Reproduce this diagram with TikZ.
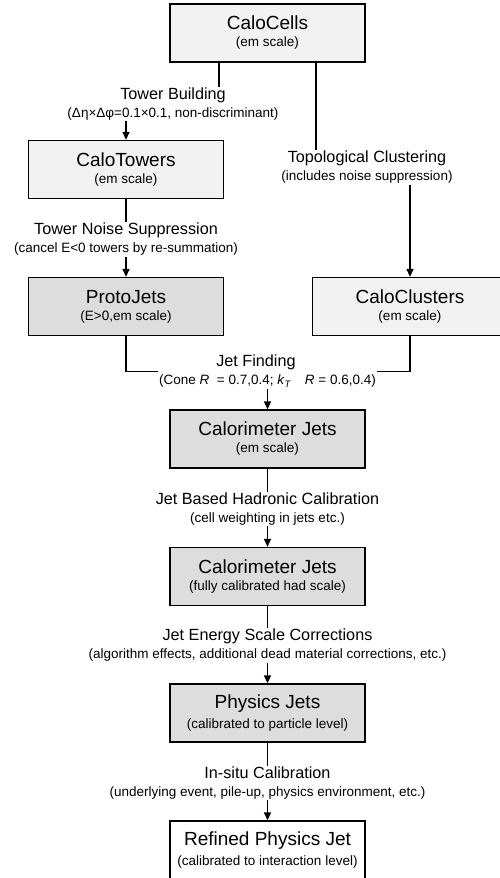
\documentclass[tikz,border=0pt]{standalone}
\usepackage{fontspec}
\setmainfont{Liberation Sans}
\usetikzlibrary{arrows.meta,calc}

\definecolor{lightbox}{gray}{0.95}
\definecolor{darkbox}{gray}{0.865}
\newcommand{\ttltxt}{\fontsize{19}{21}\selectfont}
\newcommand{\subtxt}{\fontsize{13.5}{16}\selectfont}

\begin{document}
\begin{tikzpicture}[
    x=1pt, y=-1pt,
    >={Triangle[length=8pt,width=7pt]},
    box/.style={draw, line width=1.3pt, align=center, inner sep=0pt,
                minimum width=195pt, minimum height=58pt},
    lbl/.style={align=center, inner sep=1pt, font=\fontsize{16.2}{18}\selectfont},
    flow/.style={line width=1.3pt},
  ]
    \clip (0,0) rectangle (500,878);
    \useasboundingbox (0,0) rectangle (500,878);
    % boxes
    \node[box, fill=lightbox] (cells)    at (267.5,33)  {\ttltxt CaloCells\\[5pt]\subtxt (em scale)};
    \node[box, fill=lightbox] (towers)   at (126,169.5) {\ttltxt CaloTowers\\[5pt]\subtxt (em scale)};
    \node[box, fill=darkbox]  (proto)    at (126,306.5) {\ttltxt ProtoJets\\[5pt]\subtxt (E>0,em scale)};
    \node[box, fill=lightbox] (clusters) at (410,306.5) {\ttltxt CaloClusters\\[5pt]\subtxt (em scale)};
    \node[box, fill=darkbox]  (jetsem)   at (267.5,439) {\ttltxt Calorimeter Jets\\[5pt]\subtxt (em scale)};
    \node[box, fill=darkbox]  (jetshad)  at (267.5,576.5) {\ttltxt Calorimeter Jets\\[5pt]\subtxt (fully calibrated had scale)};
    \node[box, fill=darkbox]  (physjets) at (267.5,713) {\ttltxt Physics Jets\\[5pt]\subtxt (calibrated to particle level)};
    \node[box, fill=white]    (refined)  at (267.5,850) {\ttltxt Refined Physics Jet\\[5pt]\subtxt (calibrated to interaction level)};
    % step labels
    \node[lbl] (tb) at (173,104)   {Tower Building\\\subtxt (Δη×Δφ=0.1×0.1, non-discriminant)};
    \node[lbl] (tc) at (367,167.5) {Topological Clustering\\\subtxt (includes noise suppression)};
    \node[lbl] (tn) at (126,239.5) {Tower Noise Suppression\\\subtxt (cancel E<0 towers by re-summation)};
    \node[lbl] (jf) at (267.5,371.5) {Jet Finding\hspace*{23pt}\\\subtxt (Cone \textit{R}~ = 0.7,0.4; \textit{k}\textsubscript{\textit{T}}\quad\textit{R} = 0.6,0.4)};
    \node[lbl] (jb) at (267.5,509)   {Jet Based Hadronic Calibration\\\subtxt (cell weighting in jets etc.)};
    \node[lbl] (je) at (267.5,645.5) {Jet Energy Scale Corrections\\\subtxt (algorithm effects, additional dead material corrections, etc.)};
    \node[lbl] (is) at (267.5,783)   {In-situ Calibration\\\subtxt (underlying event, pile-up, physics environment, etc.)};
    % connectors
    \draw[flow] ([xshift=-48.5pt]cells.south) -- ([xshift=-48.5pt]cells.south |- tb.north);
    \draw[flow,->] (towers.north |- tb.south) -- (towers.north);
    \draw[flow] ([xshift=48.5pt]cells.south) -- ([xshift=48.5pt]cells.south |- tc.north);
    \draw[flow,->] (clusters.north |- tc.south) -- (clusters.north);
    \draw[flow] (towers.south) -- (tn.north);
    \draw[flow,->] (tn.south) -- (proto.north);
    \draw[flow] (proto.south) |- (jf.west);
    \draw[flow] (clusters.south) |- (jf.east);
    \draw[flow,->] (jf.south) -- (jetsem.north);
    \draw[flow] (jetsem.south) -- (jb.north);
    \draw[flow,->] (jb.south) -- (jetshad.north);
    \draw[flow] (jetshad.south) -- (je.north);
    \draw[flow,->] (je.south) -- (physjets.north);
    \draw[flow] (physjets.south) -- (is.north);
    \draw[flow,->] (is.south) -- (refined.north);
  \end{tikzpicture}
\end{document}
